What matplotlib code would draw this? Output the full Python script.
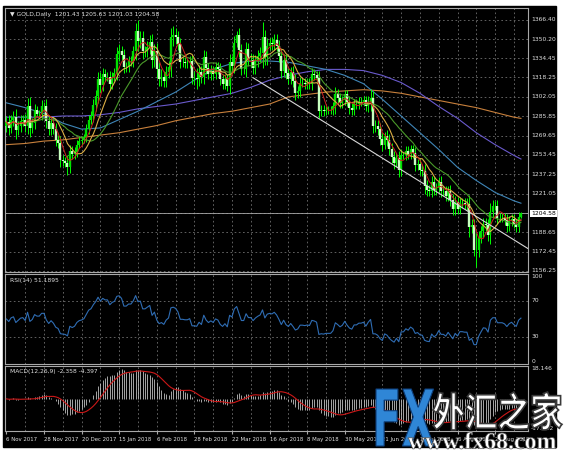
import numpy as np
import pandas as pd
import matplotlib
matplotlib.use('Agg')
import matplotlib.pyplot as plt
from matplotlib.patches import Rectangle, PathPatch
from matplotlib.textpath import TextPath
from matplotlib.font_manager import FontProperties
from matplotlib.transforms import Affine2D, IdentityTransform

W, H = 564, 451

## daily closes, 6 Nov 2017 .. 12 Sep 2018
closes = [
    # Nov
    1281, 1276, 1283, 1285, 1274, 1278, 1282, 1283, 1278, 1294, 1276, 1280, 1291, 1288, 1288, 1294, 1294, 1282, 1275,
    # Dec
    1280, 1275, 1266, 1263, 1249, 1248, 1247, 1243, 1257, 1254, 1256, 1262, 1265, 1266, 1268, 1275, 1283, 1286, 1295, 1303,
    # Jan
    1317, 1312, 1321, 1319, 1319, 1313, 1319, 1322, 1338, 1340, 1337, 1327, 1327, 1332, 1332, 1340, 1357, 1349, 1351, 1340, 1340, 1344,
    # Feb
    1348, 1333, 1340, 1325, 1317, 1319, 1315, 1323, 1327, 1352, 1354, 1352, 1346, 1331, 1331, 1330, 1330, 1332, 1318, 1318,
    # Mar
    1317, 1323, 1319, 1335, 1326, 1321, 1324, 1321, 1327, 1325, 1317, 1313, 1317, 1311, 1331, 1328, 1347, 1354, 1341, 1325, 1325,
    # Apr
    1342, 1333, 1333, 1326, 1332, 1336, 1339, 1352, 1335, 1345, 1347, 1346, 1350, 1345, 1336, 1324, 1333, 1322, 1317, 1323, 1315,
    # May
    1305, 1307, 1314, 1314, 1313, 1314, 1313, 1321, 1320, 1318, 1290, 1291, 1290, 1291, 1291, 1291, 1294, 1304, 1301, 1297, 1299, 1304, 1298,
    # Jun
    1293, 1291, 1296, 1296, 1298, 1298, 1299, 1294, 1298, 1301, 1278, 1278, 1275, 1267, 1262, 1269, 1266, 1258, 1252, 1247, 1251,
    # Jul
    1241, 1253, 1253, 1257, 1254, 1258, 1255, 1245, 1246, 1241, 1240, 1227, 1224, 1223, 1231, 1224, 1226, 1231, 1223, 1223, 1219, 1223,
    # Aug
    1216, 1208, 1214, 1208, 1213, 1213, 1212, 1212, 1193, 1195, 1174, 1174, 1184, 1190, 1196, 1195, 1186, 1206, 1211, 1211, 1201, 1201, 1201,
    # Sep
    1199, 1194, 1198, 1200, 1196, 1193, 1201.43, 1204.58,
]
wicks = [
    5, 6, 4, 5, 7, 4, 5, 4, 5, 7, 8, 4, 5, 3, 3, 5, 4, 6, 5,
    5, 4, 5, 4, 6, 4, 4, 6, 5, 4, 4, 4, 3, 3, 3, 4, 4, 4, 5, 5,
    6, 6, 5, 4, 4, 5, 4, 4, 6, 6, 5, 5, 4, 4, 4, 5, 7, 9, 6, 6, 5, 5,
    6, 7, 6, 7, 6, 6, 5, 5, 5, 8, 7, 6, 5, 5, 4, 4, 4, 4, 5, 6,
    8, 6, 5, 6, 5, 4, 5, 4, 4, 4, 5, 4, 4, 4, 7, 5, 6, 3, 6, 5, 4,
    6, 5, 6, 5, 5, 5, 5, 13, 6, 6, 4, 5, 5, 5, 5, 6, 5, 5, 4, 4, 5,
    6, 4, 5, 4, 4, 4, 4, 5, 4, 4, 6, 4, 4, 3, 3, 3, 4, 6, 5, 4, 4, 4, 4,
    5, 4, 4, 4, 4, 4, 4, 4, 5, 8, 6, 5, 5, 5, 5, 4, 5, 5, 5, 5, 4,
    6, 5, 3, 4, 4, 4, 4, 5, 4, 4, 4, 6, 5, 4, 5, 4, 4, 4, 5, 4, 4, 4,
    5, 5, 5, 4, 4, 4, 4, 5, 8, 5, 5, 14, 6, 4, 5, 5, 5, 7, 5, 4, 5, 4, 4,
    4, 5, 4, 4, 4, 4, 4, 1,
]
first_open = 1278.0

# slow moving averages, read every 8 bars
ma_bars = list(range(0, 217, 8)) + [219]
ma50 = [1297, 1293, 1288, 1280, 1275, 1276, 1283, 1290, 1298, 1306, 1316, 1325, 1330, 1332, 1332,
        1331, 1328, 1325, 1320, 1313, 1300, 1286, 1272, 1258, 1243, 1232, 1222, 1215, 1213]
ma100 = [1285, 1285, 1285, 1286, 1286, 1287, 1289, 1292, 1294, 1296, 1299, 1302, 1305, 1310, 1316,
         1320, 1323, 1325, 1325, 1324, 1320, 1314, 1305, 1294, 1284, 1272, 1262, 1253, 1250]
ma200 = [1262, 1263, 1265, 1266, 1268, 1270, 1272, 1275, 1278, 1282, 1285, 1288, 1290, 1293, 1296,
         1302, 1304, 1306, 1307, 1308, 1307, 1305, 1302, 1299, 1296, 1293, 1289, 1285, 1284]

trend_bars = [105, 222]
trend_prices = [1318, 1175]

price_ticks = [1366.40, 1350.20, 1334.45, 1318.25, 1302.05, 1285.85, 1269.65, 1253.45,
               1237.25, 1221.05, 1188.65, 1172.45, 1156.25]
price_grid = price_ticks + [1204.85]
date_bars = [0, 16, 32, 48, 64, 80, 96, 112, 128, 144, 160, 176, 192, 208]
date_labels = ['6 Nov 2017', '28 Nov 2017', '20 Dec 2017', '15 Jan 2018', '6 Feb 2018', '28 Feb 2018',
               '22 Mar 2018', '16 Apr 2018', '8 May 2018', '30 May 2018', '21 Jun 2018', '13 Jul 2018',
               '6 Aug 2018', '28 Aug 2018']
last_price = 1204.58
header = '\u25bc GOLD,Daily  1201.43 1205.63 1201.03 1204.58'
rsi_title = 'RSI(14) 51.1895'
macd_title = 'MACD(12,26,9) -2.358 -4.397'

## derived series
c = pd.Series(closes, dtype=float)
n = len(c)
x = np.arange(n)
o = np.r_[first_open, c.values[:-1]]
hi = np.maximum(o, c.values) + np.array(wicks)
lo = np.minimum(o, c.values) - np.array(wicks)
ma5 = c.rolling(5, min_periods=1).mean()
ma10 = c.rolling(10, min_periods=1).mean()
ma20 = c.rolling(20, min_periods=1).mean()

# Wilder RSI(14), started from a neutral average move
d = c.diff().fillna(0).values
gain = np.clip(d, 0, None)
loss = np.clip(-d, 0, None)
au = ad = np.abs(d[1:15]).mean() / 2
rsi = []
for i in range(n):
    if i > 0:
        au = (au * 13 + gain[i]) / 14
        ad = (ad * 13 + loss[i]) / 14
    rsi.append(100 - 100 / (1 + au / ad))

macd = c.ewm(span=12, adjust=False).mean() - c.ewm(span=26, adjust=False).mean()
signal = macd.rolling(9, min_periods=1).mean()

## figure
fig = plt.figure(figsize=(W / 100, H / 100), dpi=100, facecolor='white')
fig.add_artist(Rectangle((3 / W, 4 / H), 553 / W, 441 / H, transform=fig.transFigure,
                         color='black', zorder=0))

TXT = '#e0e0e0'
GRID = '#707070'
FS = 4.3


def px_axes(x0, y0, x1, y1):
    a = fig.add_axes([x0 / W, 1 - y1 / H, (x1 - x0) / W, (y1 - y0) / H])
    a.set_facecolor('black')
    for s in a.spines.values():
        s.set_color('#a8a8a8')
        s.set_linewidth(0.8)
    a.set_xlim(-0.6, 222)
    a.set_xticks([])
    a.set_yticks([])
    for b in range(8, 220, 8):
        a.axvline(b, color=GRID, lw=0.6, ls=(0, (2, 3)), zorder=1)
    return a


def right_label(a, val, s, va='center', color=TXT, **kw):
    a.text(1.006, val, s, transform=a.get_yaxis_transform(), fontsize=FS, color=color,
           va=va, ha='left', clip_on=False, **kw)


ax = px_axes(5, 8, 528, 272)
ax_rsi = px_axes(5, 274, 528, 364)
ax_macd = px_axes(5, 366, 528, 431)

# main price panel
ax.set_ylim(1155.4, 1376.4)
for p in price_grid:
    ax.axhline(p, color=GRID, lw=0.6, ls=(0, (2, 3)), zorder=1)
for p in price_ticks:
    right_label(ax, p, '%.2f' % p)

ax.plot(ma_bars, ma200, color='#c8803c', lw=0.8, zorder=2)
ax.plot(ma_bars, ma100, color='#6a5acd', lw=0.8, zorder=2)
ax.plot(ma_bars, ma50, color='#3f86b8', lw=0.8, zorder=2)

bull = c.values >= o
ax.vlines(x, lo, hi, color='#00ff00', lw=0.7, zorder=3)
ax.vlines(x[bull], o[bull], c.values[bull], color='#00e000', lw=1.7, zorder=3)
ax.vlines(x[~bull], c.values[~bull], o[~bull], color='#c8ffc0', lw=1.7, zorder=3)

ax.plot(x, ma20, color='#4a9a2a', lw=0.8, zorder=4)
ax.plot(x, ma10, color='#dcae45', lw=0.8, zorder=4)
ax.plot(x, ma5, color='#d02020', lw=0.7, zorder=4)

ax.plot(trend_bars, trend_prices, color='#d8d8d8', lw=0.8, zorder=4)
ax.axhline(last_price, color='#a8a8a8', lw=0.6, zorder=2)
right_label(ax, last_price, '%.2f' % last_price, color='black',
            bbox=dict(fc='white', ec='none', boxstyle='square,pad=0.15'))
ax.text(0.01, 0.985, header, transform=ax.transAxes, fontsize=FS, color=TXT, va='top', ha='left')

# RSI panel
ax_rsi.set_ylim(0, 100)
for lv in [70, 30]:
    ax_rsi.axhline(lv, color=GRID, lw=0.6, ls=(0, (2, 3)), zorder=1)
ax_rsi.plot(x, rsi, color='#2f6db4', lw=0.8, zorder=3)
right_label(ax_rsi, 100, '100', va='top')
right_label(ax_rsi, 70, '70')
right_label(ax_rsi, 30, '30')
right_label(ax_rsi, 0, '0', va='bottom')
ax_rsi.text(0.01, 0.96, rsi_title, transform=ax_rsi.transAxes, fontsize=FS, color=TXT, va='top')

# MACD panel
ax_macd.set_ylim(-17.742, 18.146)
ax_macd.vlines(x, 0, macd, color='#c0c0c0', lw=0.6, zorder=2)
ax_macd.plot(x, signal, color='#cc1818', lw=0.8, zorder=3)
right_label(ax_macd, 18.146, '18.146', va='top')
right_label(ax_macd, 0, '0')
right_label(ax_macd, -17.742, '-17.742', va='bottom')
ax_macd.text(0.01, 0.95, macd_title, transform=ax_macd.transAxes, fontsize=FS, color=TXT, va='top')
ax_macd.set_xticks(date_bars)
ax_macd.set_xticklabels(date_labels, ha='left', fontsize=3.9, color=TXT)
ax_macd.tick_params(axis='x', length=2, color='#a8a8a8', pad=2)


# watermark
def fit_text(s, box, prop, face, edge, lw):
    tp = TextPath((0, 0), s, size=50, prop=prop)
    ext = tp.get_extents()
    x0, y0, x1, y1 = box
    tr = Affine2D().translate(-ext.x0, -ext.y0).scale((x1 - x0) / ext.width, (y1 - y0) / ext.height)
    tr = tr.translate(x0, H - y1)
    fig.add_artist(PathPatch(tr.transform_path(tp), transform=IdentityTransform(),
                             fc=face, ec=edge, lw=lw, zorder=10))


fit_text('FX', (376, 389, 434, 446), FontProperties(family='DejaVu Sans', weight='bold'),
         '#2f86d6', '#0d3e7a', 0.8)
fit_text('外汇之家', (433, 392, 562, 430), FontProperties(family='Noto Sans CJK SC', weight='bold'),
         'white', '#3a3a3a', 1.2)
fit_text('www.fx68.com', (408, 432, 556, 449), FontProperties(family='Liberation Serif', weight='bold'),
         'white', '#505050', 0.5)

fig.savefig('out.png', dpi=100, facecolor=fig.get_facecolor())
